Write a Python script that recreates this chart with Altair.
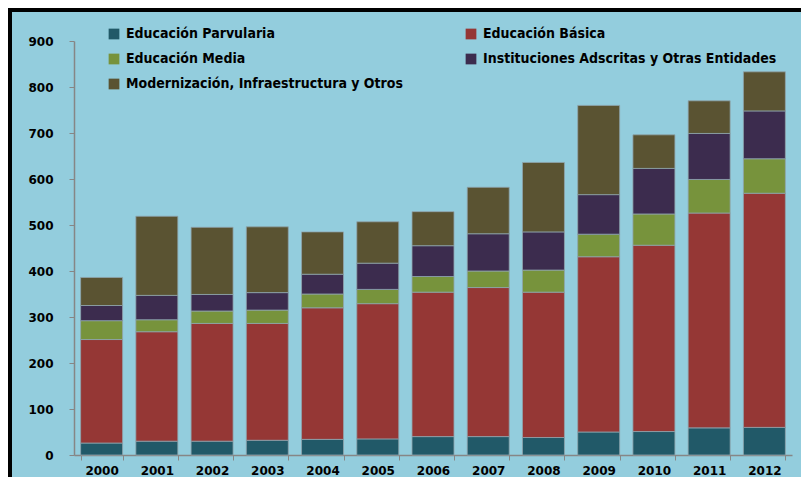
import altair as alt
import pandas as pd

years = ["2000", "2001", "2002", "2003", "2004", "2005", "2006",
         "2007", "2008", "2009", "2010", "2011", "2012"]
series = ["Educación Parvularia", "Educación Básica", "Educación Media",
          "Instituciones Adscritas y Otras Entidades",
          "Modernización, Infraestructura y Otros"]
colors = ["#215968", "#953735", "#77933C", "#3C2C4E", "#5A5332"]

parvularia = [26, 30, 30, 32, 34, 35, 40, 40, 38, 50, 51, 59, 60]
basica = [225, 238, 256, 254, 286, 294, 314, 324, 316, 381, 405, 467, 509]
media = [41, 26, 27, 29, 30, 31, 34, 36, 48, 49, 68, 73, 75]
instituciones = [33, 53, 36, 38, 43, 57, 67, 81, 83, 86, 99, 100, 104]
modernizacion = [61, 172, 146, 143, 92, 90, 74, 101, 151, 194, 73, 71, 85]

values = [parvularia, basica, media, instituciones, modernizacion]
rows = []
for si, (name, vals) in enumerate(zip(series, values)):
    for y, v in zip(years, vals):
        rows.append({"Año": y, "Serie": name, "Valor": v, "orden": si})
df = pd.DataFrame(rows)

axis_font = "DejaVu Sans"
legend_font = "Liberation Sans Narrow, Arial Narrow, DejaVu Sans Condensed, sans-serif"

bars = alt.Chart(df).mark_bar(stroke="#8FA5AD", strokeWidth=0.8).encode(
    x=alt.X("Año:N", sort=years, title=None,
            scale=alt.Scale(paddingInner=0.24, paddingOuter=0.12),
            axis=alt.Axis(labelAngle=0, tickBand="extent", domainColor="#868686",
                          tickColor="#868686", tickSize=5, domainWidth=1.5,
                          labelFont=axis_font, labelFontWeight="bold",
                          labelFontSize=12, labelColor="#000000", labelPadding=5)),
    y=alt.Y("Valor:Q", title=None, stack="zero",
            scale=alt.Scale(domain=[0, 900], nice=False),
            axis=alt.Axis(values=list(range(0, 901, 100)), grid=False,
                          domainColor="#868686", tickColor="#868686", tickSize=5,
                          domainWidth=1.5, labelFont=axis_font,
                          labelFontWeight="bold", labelFontSize=12,
                          labelColor="#000000", labelPadding=16)),
    color=alt.Color("Serie:N", scale=alt.Scale(domain=series, range=colors),
                    legend=alt.Legend(title=None, orient="none", legendX=33,
                                      legendY=-14, columns=2, columnPadding=61,
                                      direction="horizontal",
                                      rowPadding=11, symbolType="square",
                                      symbolSize=115, symbolStrokeWidth=0,
                                      labelFont=legend_font, labelFontSize=14,
                                      labelFontWeight="bold", labelColor="#000000",
                                      labelOffset=5, labelLimit=400, padding=0)),
    order=alt.Order("orden:Q"),
)

border_data = alt.Data(values=[{"k": 1}])
left_border = alt.Chart(border_data).mark_rule(color="#000000", strokeWidth=4).encode(
    x=alt.value(-64), y=alt.value(-33), y2=alt.value(436))
top_border = alt.Chart(border_data).mark_rule(color="#000000", strokeWidth=4).encode(
    x=alt.value(-66), x2=alt.value(727), y=alt.value(-31))

chart = alt.layer(bars, left_border, top_border).properties(
    width=718, height=414,
    autosize=alt.AutoSizeParams(type="none"),
    padding={"left": 66, "top": 33, "right": 9, "bottom": 22},
    background="#93CDDD",
).configure_view(stroke=None)

chart.save("out.html", embed_options={"renderer": "svg", "actions": False})
